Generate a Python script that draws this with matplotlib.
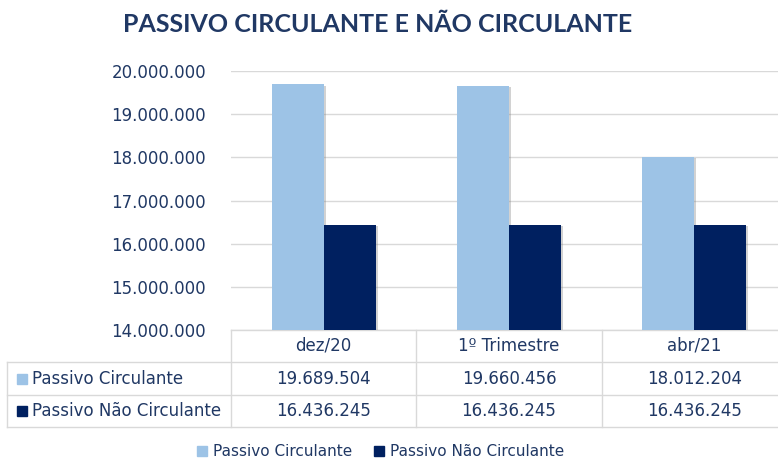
import matplotlib
matplotlib.use("Agg")
import matplotlib.pyplot as plt
import matplotlib.patheffects as pe
from matplotlib.lines import Line2D
from matplotlib.transforms import blended_transform_factory
from matplotlib.ticker import FuncFormatter
import numpy as np

# data
categories = ["dez/20", "1º Trimestre", "abr/21"]
series_names = ["Passivo Circulante", "Passivo Não Circulante"]
passivo_circulante = [19689504, 19660456, 18012204]
passivo_nao_circulante = [16436245, 16436245, 16436245]
y_ticks = [14000000, 15000000, 16000000, 17000000, 18000000, 19000000, 20000000]

LIGHT = "#9DC3E6"
DARK = "#002060"
TXT = "#203864"
GRID = "#D9D9D9"
W, H = 778, 459


def fmt(v):
    return f"{v:,.0f}".replace(",", ".")


def fy(py):
    return 1 - py / H


fig = plt.figure(figsize=(W / 100, H / 100), dpi=100)
ax = fig.add_axes([231 / W, fy(330), 556 / W, (330 - 71) / H])

x = np.arange(len(categories))
bw = 0.28
shadow = [pe.SimplePatchShadow(offset=(1.5, -1), shadow_rgbFace="#808080", alpha=0.35), pe.Normal()]
ax.bar(x - bw / 2, passivo_circulante, bw, color=LIGHT, zorder=3, path_effects=shadow)
ax.bar(x + bw / 2, passivo_nao_circulante, bw, color=DARK, zorder=3, path_effects=shadow)

ax.set_xlim(-0.5, len(categories) - 0.5)
ax.set_ylim(y_ticks[0], y_ticks[-1])
ax.set_yticks(y_ticks)
ax.yaxis.set_major_formatter(FuncFormatter(lambda v, p: fmt(v)))
ax.tick_params(axis="y", length=0, pad=18, labelsize=12, labelcolor=TXT)
ax.set_xticks([])
ax.grid(axis="y", color=GRID, lw=1, zorder=0)
for s in ax.spines.values():
    s.set_visible(False)

fig.text(0.485, fy(25), "PASSIVO CIRCULANTE E NÃO CIRCULANTE", ha="center",
         va="center", fontsize=18, fontweight="bold", color=TXT, family="Lato")

# data table under the axis
tr = blended_transform_factory(ax.transData, fig.transFigure)
row_y = [330, 362, 395, 427]
lk = dict(color=GRID, lw=1, clip_on=False)
ax.add_line(Line2D([-0.5, 3], [fy(row_y[0])] * 2, transform=tr, **lk))
for py in row_y[1:]:
    fig.add_artist(Line2D([7 / W, 1], [fy(py)] * 2, **lk))
for xb in np.arange(len(categories) + 1) - 0.5:
    ax.add_line(Line2D([xb, xb], [fy(row_y[0]), fy(row_y[-1])], transform=tr, **lk))
fig.add_artist(Line2D([7 / W, 7 / W], [fy(row_y[1]), fy(row_y[-1])], **lk))

tk = dict(ha="center", va="center", color=TXT, fontsize=12)
for i, c in enumerate(categories):
    ax.text(i, fy((row_y[0] + row_y[1]) / 2), c, transform=tr, **tk)
    ax.text(i, fy((row_y[1] + row_y[2]) / 2), fmt(passivo_circulante[i]), transform=tr, **tk)
    ax.text(i, fy((row_y[2] + row_y[3]) / 2), fmt(passivo_nao_circulante[i]), transform=tr, **tk)

for k, (name, col) in enumerate(zip(series_names, [LIGHT, DARK])):
    yc = fy((row_y[k + 1] + row_y[k + 2]) / 2)
    fig.add_artist(Line2D([22 / W], [yc], marker="s", ms=7, color=col, lw=0))
    fig.text(32 / W, yc, name, ha="left", va="center", color=TXT, fontsize=12)

handles = [Line2D([], [], marker="s", ms=7, color=c, lw=0) for c in [LIGHT, DARK]]
fig.legend(handles, series_names, loc="center", bbox_to_anchor=(380 / W, fy(452)),
           ncol=2, frameon=False, fontsize=11, labelcolor=TXT, handletextpad=0.3,
           columnspacing=1.4, handlelength=0.8)

fig.savefig("out.png", dpi=100)
